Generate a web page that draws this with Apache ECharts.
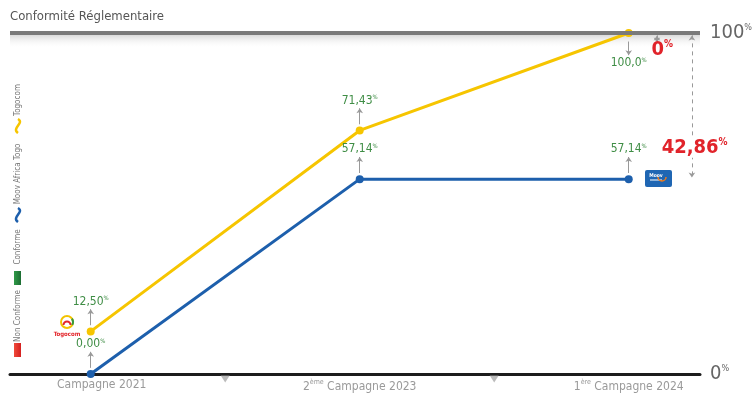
<!DOCTYPE html>
<html>
<head>
<meta charset="utf-8">
<script src="https://cdn.jsdelivr.net/npm/echarts@6/dist/echarts.min.js"></script>
<style>
  html, body { margin: 0; padding: 0; background: #fff; }
  #chart { width: 752px; height: 396px; }
</style>
</head>
<body>
<div id="chart"></div>
<script>
// Campaign data (% of conformity)
const categories = ['Campagne 2021', '2ème Campagne 2023', '1ère Campagne 2024'];
const togocom = [12.50, 71.43, 100.0];
const moov = [0.00, 57.14, 57.14];
const yTicks = [0, 100];
const dividers = [0.5, 1.5];

const FONT = "'Liberation Sans Narrow', 'DejaVu Sans Condensed', sans-serif";
const GREEN = '#3f8d45';
const RED = '#e1232a';
const YELLOW = '#f6c500';
const BLUE = '#1d5fac';

function fmt(v) {
  const s = v >= 100 ? v.toFixed(1) : v.toFixed(2);
  return s.replace('.', ',');
}
function valueLabel(p) {
  return '{v|' + fmt(p.value[1]) + '}{p|%}';
}
const valueRich = {
  v: { fontSize: 12, color: GREEN, fontFamily: FONT },
  p: { fontSize: 6, color: GREEN, fontFamily: FONT, verticalAlign: 'top', padding: [0, 0, 6, 0] }
};

// Points, labels above (or below when touching the top)
function buildData(arr) {
  return arr.map((v, i) => ({
    value: [i, v],
    label: { position: v >= 100 ? 'bottom' : 'top' }
  }));
}
// Small grey arrows linking a value label to its point
function connectors(arr) {
  return arr.map((v, i) => v >= 100
    ? [{ coord: [i, v - 2.5] }, { coord: [i, v - 6.5] }]
    : [{ coord: [i, v + 1.8] }, { coord: [i, v + 6.5] }]);
}

const gapX = 2.235;
const gapT = 100 - togocom[2];
const gapM = 100 - moov[2];
function gapText(g) {
  return g === 0 ? '0' : g.toFixed(2).replace('.', ',');
}
const gapRich = {
  n: { fontSize: 20, fontWeight: 'bold', color: RED, fontFamily: FONT },
  p: { fontSize: 10, fontWeight: 'bold', color: RED, fontFamily: FONT, verticalAlign: 'top', padding: [0, 0, 10, 0] }
};

const chart = echarts.init(document.getElementById('chart'), null, { renderer: 'canvas' });

const lineCommon = {
  type: 'line',
  symbol: 'circle',
  symbolSize: 8,
  clip: false,
  z: 3,
  label: {
    show: true,
    distance: 20,
    formatter: valueLabel,
    rich: valueRich
  },
  emphasis: { disabled: true }
};

const catStyle = { fontSize: 12, color: '#9a9a9a', fontFamily: FONT };

const option = {
  animation: false,
  backgroundColor: '#fff',
  title: {
    text: 'Conformité Réglementaire',
    left: 10,
    top: 10,
    padding: 0,
    textStyle: { fontFamily: FONT, fontSize: 13, fontWeight: 'normal', color: '#555' }
  },
  grid: { left: 10, right: 52, top: 33, bottom: 22, outerBoundsMode: 'none' },
  xAxis: {
    type: 'value',
    min: -0.3,
    max: 2.265,
    axisLine: { lineStyle: { color: '#1c1c1c', width: 3 } },
    axisTick: { show: false },
    splitLine: { show: false },
    axisLabel: {
      customValues: [0, 1, 2],
      margin: 5,
      color: '#9a9a9a',
      fontSize: 12,
      fontFamily: FONT,
      formatter: v => {
        const i = Math.round(v);
        const s = categories[i].replace(/^(\d)(ème|ère)/, '$1{s|$2}');
        return i === 0 ? '{f|' + s + '}' : s;
      },
      rich: {
        s: { fontSize: 7, color: '#9a9a9a', fontFamily: FONT, verticalAlign: 'top', padding: [0, 0, 8, 0] },
        f: Object.assign({ padding: [0, 0, 0, 22] }, catStyle)
      }
    }
  },
  yAxis: {
    type: 'value',
    position: 'right',
    min: 0,
    max: 100,
    interval: 100,
    axisLine: { show: false },
    axisTick: { show: false },
    splitLine: { show: false },
    axisLabel: {
      margin: 10,
      customValues: yTicks,
      formatter: v => '{n|' + v + '}{p|%}',
      rich: {
        n: { fontSize: 20, color: '#666', fontFamily: FONT },
        p: { fontSize: 9, color: '#666', fontFamily: FONT, verticalAlign: 'top', padding: [0, 0, 10, 0] }
      }
    }
  },
  series: [
    {
      // top bar and its soft shading
      type: 'line',
      data: [],
      z: 1,
      silent: true,
      markLine: {
        silent: true,
        symbol: 'none',
        label: { show: false },
        lineStyle: { color: '#7a7a7a', width: 4, type: 'solid' },
        data: [{ yAxis: 100 }]
      },
      markArea: {
        silent: true,
        itemStyle: {
          color: new echarts.graphic.LinearGradient(0, 0, 0, 1, [
            { offset: 0, color: 'rgba(170,170,170,0.45)' },
            { offset: 1, color: 'rgba(255,255,255,0)' }
          ])
        },
        data: [[{ yAxis: 99.5 }, { yAxis: 95.5 }]]
      }
    },
    Object.assign({}, lineCommon, {
      name: 'Togocom',
      data: buildData(togocom),
      lineStyle: { color: YELLOW, width: 3 },
      itemStyle: { color: YELLOW },
      markLine: {
        silent: true,
        symbol: ['none', 'arrow'],
        symbolSize: 5,
        label: { show: false },
        lineStyle: { color: '#999', width: 1, type: 'solid' },
        data: connectors(togocom).concat([
          [{ coord: [gapX - 0.13, 99.3], symbol: 'arrow' }, { coord: [gapX - 0.13, 97.2] }]
        ])
      },
      markPoint: {
        silent: true,
        symbol: 'circle',
        symbolSize: 0,
        data: [{
          coord: [gapX - 0.11, 95.2],
          label: { show: true, formatter: '{n|' + gapText(gapT) + '}{p|%}', rich: gapRich }
        }]
      }
    }),
    Object.assign({}, lineCommon, {
      name: 'Moov Africa Togo',
      data: buildData(moov),
      lineStyle: { color: BLUE, width: 3 },
      itemStyle: { color: BLUE },
      markLine: {
        silent: true,
        symbol: ['none', 'arrow'],
        symbolSize: 5,
        label: { show: false },
        lineStyle: { color: '#999', width: 1, type: 'solid' },
        data: connectors(moov).concat([
          [
            { coord: [gapX, 99.3], symbol: 'arrow', lineStyle: { type: [4, 4] } },
            { coord: [gapX, moov[2] + 0.5], symbol: 'arrow' }
          ]
        ])
      },
      markPoint: {
        silent: true,
        symbol: 'circle',
        symbolSize: 0,
        data: [{
          coord: [gapX + 0.01, moov[2] + 9.5],
          label: {
            show: true,
            formatter: '{n|' + gapText(gapM) + '}{p|%}',
            rich: gapRich,
            backgroundColor: '#fff',
            padding: [2, 0, 0, 0]
          }
        }]
      }
    }),
    {
      // campaign separators on the baseline
      type: 'scatter',
      data: dividers.map(d => [d, 0]),
      symbol: 'triangle',
      symbolRotate: 180,
      symbolSize: [9, 7],
      symbolOffset: [0, 5],
      itemStyle: { color: '#aaa' },
      clip: false,
      silent: true,
      z: 2
    }
  ],
  graphic: [
    // side legend
    { type: 'text', x: 18, y: 100, rotation: Math.PI / 2,
      style: { text: 'Togocom', font: '8px ' + FONT, fill: '#777', align: 'center', verticalAlign: 'middle' } },
    { type: 'bezierCurve', shape: { x1: 18, y1: 119, cpx1: 25, cpy1: 123, cpx2: 11, cpy2: 128, x2: 18, y2: 133 },
      style: { stroke: YELLOW, lineWidth: 2.5, fill: null } },
    { type: 'text', x: 18, y: 174, rotation: Math.PI / 2,
      style: { text: 'Moov Africa Togo', font: '8px ' + FONT, fill: '#777', align: 'center', verticalAlign: 'middle' } },
    { type: 'bezierCurve', shape: { x1: 18, y1: 208, cpx1: 25, cpy1: 212, cpx2: 11, cpy2: 217, x2: 18, y2: 222 },
      style: { stroke: BLUE, lineWidth: 2.5, fill: null } },
    { type: 'text', x: 18, y: 247, rotation: Math.PI / 2,
      style: { text: 'Conforme', font: '8px ' + FONT, fill: '#777', align: 'center', verticalAlign: 'middle' } },
    { type: 'rect', shape: { x: 14, y: 271, width: 7, height: 14 },
      style: { fill: new echarts.graphic.LinearGradient(0, 0, 1, 0, [{ offset: 0, color: '#2f9a48' }, { offset: 1, color: '#1d6d33' }]) } },
    { type: 'text', x: 18, y: 316, rotation: Math.PI / 2,
      style: { text: 'Non Conforme', font: '8px ' + FONT, fill: '#777', align: 'center', verticalAlign: 'middle' } },
    { type: 'rect', shape: { x: 14, y: 343, width: 7, height: 14 },
      style: { fill: new echarts.graphic.LinearGradient(0, 0, 1, 0, [{ offset: 0, color: '#f04a3a' }, { offset: 1, color: '#d42020' }]) } },

    // Togocom mark
    { type: 'circle', shape: { cx: 67, cy: 322, r: 6 }, style: { stroke: '#f3c300', lineWidth: 2, fill: null } },
    { type: 'arc', shape: { cx: 67, cy: 325, r: 3.5, startAngle: Math.PI, endAngle: 2 * Math.PI },
      style: { stroke: '#e3262b', lineWidth: 2, fill: null } },
    { type: 'arc', shape: { cx: 67, cy: 322, r: 6, startAngle: -0.6, endAngle: 0.5 },
      style: { stroke: '#3a9a3d', lineWidth: 2, fill: null } },
    { type: 'text', x: 67, y: 334,
      style: { text: 'Togocom', font: 'bold 6px ' + FONT, fill: '#e3262b', align: 'center', verticalAlign: 'middle' } },

    // Moov Africa mark
    { type: 'rect', shape: { x: 645, y: 170, width: 27, height: 17, r: 2 }, style: { fill: '#1f66b3' } },
    { type: 'text', x: 656, y: 176,
      style: { text: 'Moov', font: 'bold 5px ' + FONT, fill: '#fff', align: 'center', verticalAlign: 'middle' } },
    { type: 'line', shape: { x1: 650, y1: 180, x2: 662, y2: 180 }, style: { stroke: '#fff', lineWidth: 1 } },
    { type: 'arc', shape: { cx: 662, cy: 177, r: 4, startAngle: 0, endAngle: Math.PI },
      style: { stroke: '#f07a1a', lineWidth: 1.5, fill: null } }
  ]
};

chart.setOption(option);
</script>
</body>
</html>
